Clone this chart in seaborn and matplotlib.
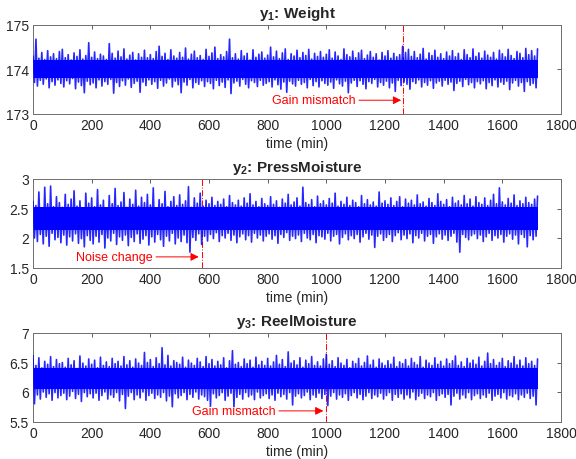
import numpy as np
import pandas as pd
import matplotlib
matplotlib.use("Agg")
import matplotlib.pyplot as plt
import seaborn as sns

# -----------------------------------
# Data
# -----------------------------------

# upper excursions at t = 0, 10, ..., 1720 min
# lower excursions at t = 5, 15, ..., 1715 min

weight_hi = [174.30, 174.68, 174.25, 174.38, 174.22, 174.42, 174.28, 174.35, 174.24, 174.40,
             174.45, 174.26, 174.33, 174.21, 174.37, 174.29, 174.44, 174.23, 174.31, 174.60,
             174.27, 174.39, 174.24, 174.34, 174.30, 174.22, 174.58, 174.36, 174.25, 174.41,
             174.28, 174.46, 174.23, 174.32, 174.38, 174.21, 174.35, 174.27, 174.43, 174.26,
             174.33, 174.24, 174.40, 174.52, 174.29, 174.36, 174.22, 174.44, 174.30, 174.25,
             174.38, 174.27, 174.48, 174.23, 174.34, 174.41, 174.26, 174.31, 174.22, 174.45,
             174.29, 174.37, 174.50, 174.24, 174.33, 174.28, 174.40, 174.68, 174.26, 174.35,
             174.23, 174.42, 174.30, 174.36, 174.21, 174.44, 174.27, 174.34, 174.39, 174.25,
             174.32, 174.50, 174.28, 174.41, 174.24, 174.37, 174.46, 174.22, 174.35, 174.30,
             174.43, 174.26, 174.38, 174.31, 174.45, 174.23, 174.36, 174.29, 174.40, 174.27,
             174.34, 174.44, 174.25, 174.39, 174.30, 174.22, 174.46, 174.33, 174.28, 174.41,
             174.26, 174.37, 174.43, 174.24, 174.32, 174.40, 174.27, 174.35, 174.21, 174.38,
             174.30, 174.42, 174.25, 174.36, 174.28, 174.33, 174.52, 174.38, 174.45, 174.29,
             174.40, 174.26, 174.34, 174.47, 174.23, 174.37, 174.31, 174.43, 174.27, 174.35,
             174.24, 174.39, 174.30, 174.42, 174.28, 174.36, 174.22, 174.44, 174.33, 174.26,
             174.46, 174.29, 174.37, 174.25, 174.41, 174.32, 174.27, 174.38, 174.23, 174.43,
             174.35, 174.28, 174.45, 174.31, 174.24, 174.40, 174.36, 174.26, 174.47, 174.33,
             174.42, 174.30, 174.46]
weight_lo = [173.70, 173.62, 173.75, 173.66, 173.78, 173.58, 173.72, 173.64, 173.76, 173.68,
             173.60, 173.74, 173.67, 173.79, 173.56, 173.71, 173.63, 173.47, 173.73, 173.65,
             173.69, 173.58, 173.76, 173.62, 173.72, 173.66, 173.77, 173.46, 173.70, 173.61,
             173.74, 173.64, 173.78, 173.59, 173.68, 173.73, 173.48, 173.71, 173.63, 173.76,
             173.66, 173.72, 173.57, 173.75, 173.62, 173.69, 173.78, 173.60, 173.73, 173.65,
             173.47, 173.71, 173.64, 173.77, 173.58, 173.70, 173.66, 173.74, 173.61, 173.72,
             173.68, 173.56, 173.75, 173.63, 173.71, 173.59, 173.76, 173.45, 173.69, 173.73,
             173.62, 173.77, 173.66, 173.58, 173.74, 173.70, 173.61, 173.75, 173.64, 173.68,
             173.72, 173.60, 173.76, 173.65, 173.55, 173.71, 173.48, 173.73, 173.67, 173.62,
             173.75, 173.66, 173.70, 173.58, 173.77, 173.63, 173.72, 173.60, 173.74, 173.68,
             173.64, 173.71, 173.57, 173.76, 173.67, 173.62, 173.73, 173.47, 173.69, 173.75,
             173.61, 173.74, 173.66, 173.56, 173.72, 173.68, 173.77, 173.60, 173.70, 173.64,
             173.73, 173.58, 173.69, 173.50, 173.75, 173.63, 173.71, 173.66, 173.55, 173.72,
             173.68, 173.76, 173.60, 173.70, 173.64, 173.74, 173.57, 173.69, 173.73, 173.62,
             173.75, 173.66, 173.71, 173.52, 173.68, 173.73, 173.61, 173.77, 173.65, 173.70,
             173.58, 173.72, 173.67, 173.74, 173.56, 173.70, 173.63, 173.76, 173.60, 173.71,
             173.66, 173.73, 173.54, 173.69, 173.75, 173.62, 173.70, 173.50, 173.72, 173.64,
             173.68, 173.58]

press_hi = [2.62, 2.55, 2.78, 2.50, 2.86, 2.58, 2.88, 2.53, 2.70, 2.60,
            2.52, 2.74, 2.57, 2.66, 2.80, 2.54, 2.63, 2.51, 2.76, 2.59,
            2.68, 2.53, 2.82, 2.56, 2.64, 2.50, 2.72, 2.58, 2.84, 2.55,
            2.61, 2.77, 2.52, 2.66, 2.57, 2.81, 2.54, 2.69, 2.60, 2.74,
            2.56, 2.85, 2.51, 2.65, 2.58, 2.79, 2.53, 2.62, 2.70, 2.55,
            2.73, 2.57, 2.63, 2.87, 2.52, 2.68, 2.59, 2.76, 2.54, 2.64,
            2.58, 2.69, 2.55, 2.62, 2.57, 2.66, 2.53, 2.72, 2.60, 2.56,
            2.64, 2.54, 2.68, 2.59, 2.75, 2.56, 2.62, 2.53, 2.67, 2.58,
            2.55, 2.70, 2.57, 2.63, 2.52, 2.66, 2.59, 2.74, 2.56, 2.61,
            2.68, 2.54, 2.86, 2.60, 2.57, 2.65, 2.53, 2.71, 2.58, 2.63,
            2.56, 2.67, 2.59, 2.76, 2.54, 2.62, 2.57, 2.69, 2.55, 2.64,
            2.60, 2.53, 2.72, 2.58, 2.65, 2.56, 2.61, 2.54, 2.78, 2.59,
            2.63, 2.57, 2.68, 2.55, 2.62, 2.70, 2.53, 2.66, 2.59, 2.64,
            2.56, 2.73, 2.58, 2.61, 2.54, 2.67, 2.60, 2.55, 2.75, 2.62,
            2.57, 2.65, 2.53, 2.69, 2.59, 2.63, 2.56, 2.72, 2.58, 2.66,
            2.54, 2.70, 2.60, 2.57, 2.68, 2.55, 2.64, 2.74, 2.58, 2.85,
            2.61, 2.56, 2.67, 2.59, 2.73, 2.55, 2.63, 2.58, 2.69, 2.60,
            2.57, 2.66, 2.71]
press_lo = [2.00, 1.94, 2.06, 1.90, 2.03, 1.86, 2.08, 1.97, 2.01, 1.92,
            2.05, 1.88, 2.02, 1.95, 2.07, 1.91, 1.99, 1.85, 2.04, 1.96,
            1.90, 2.03, 1.93, 2.06, 1.83, 2.00, 1.95, 2.08, 1.89, 2.02,
            1.96, 2.05, 1.87, 2.01, 1.94, 2.07, 1.91, 1.98, 2.04, 1.88,
            2.02, 1.93, 2.06, 1.97, 1.86, 2.03, 1.95, 2.08, 1.90, 2.00,
            1.94, 2.05, 1.92, 1.76, 2.01, 1.96, 2.07, 1.89, 2.03, 1.95,
            2.06, 1.99, 2.09, 1.94, 2.04, 2.00, 2.08, 1.96, 2.05, 1.92,
            2.02, 2.07, 1.97, 2.04, 1.93, 2.08, 2.00, 2.05, 1.95, 2.03,
            2.07, 1.98, 2.04, 1.91, 2.06, 2.01, 2.09, 1.96, 2.03, 1.99,
            2.05, 1.94, 2.08, 2.00, 1.97, 2.06, 1.92, 2.04, 2.02, 1.98,
            2.08, 1.95, 2.03, 2.06, 1.90, 2.01, 2.07, 1.97, 2.04, 1.99,
            2.06, 1.93, 2.02, 2.08, 1.98, 2.05, 1.84, 2.03, 2.07, 1.96,
            2.01, 2.06, 1.94, 2.04, 2.09, 1.97, 2.05, 1.99, 2.07, 1.92,
            2.04, 2.00, 2.08, 1.95, 2.03, 2.06, 1.91, 2.02, 2.07, 1.98,
            2.05, 1.96, 2.03, 2.08, 1.93, 1.76, 2.06, 2.01, 1.97, 2.04,
            2.07, 1.99, 2.05, 1.94, 2.02, 2.08, 1.96, 2.04, 2.00, 2.06,
            1.93, 2.03, 2.07, 1.98, 2.05, 1.90, 2.06, 2.01, 1.85, 2.04,
            1.97, 2.03]

reel_hi = [6.62, 6.45, 6.58, 6.41, 6.52, 6.47, 6.60, 6.43, 6.55, 6.48,
           6.50, 6.42, 6.57, 6.46, 6.53, 6.40, 6.61, 6.49, 6.44, 6.56,
           6.47, 6.54, 6.41, 6.59, 6.45, 6.51, 6.43, 6.57, 6.48, 6.52,
           6.44, 6.60, 6.46, 6.53, 6.42, 6.56, 6.49, 6.45, 6.67, 6.50,
           6.55, 6.43, 6.58, 6.48, 6.75, 6.46, 6.62, 6.44, 6.53, 6.50,
           6.47, 6.59, 6.42, 6.54, 6.49, 6.45, 6.57, 6.51, 6.43, 6.60,
           6.48, 6.55, 6.44, 6.52, 6.46, 6.58, 6.41, 6.53, 6.70, 6.47,
           6.50, 6.43, 6.56, 6.48, 6.54, 6.42, 6.59, 6.46, 6.52, 6.45,
           6.57, 6.44, 6.51, 6.62, 6.47, 6.55, 6.43, 6.68, 6.49, 6.53,
           6.46, 6.58, 6.42, 6.54, 6.48, 6.60, 6.45, 6.51, 6.44, 6.56,
           6.64, 6.47, 6.53, 6.43, 6.58, 6.49, 6.45, 6.55, 6.41, 6.52,
           6.48, 6.57, 6.44, 6.50, 6.61, 6.46, 6.54, 6.42, 6.56, 6.49,
           6.45, 6.53, 6.47, 6.59, 6.43, 6.51, 6.48, 6.55, 6.44, 6.57,
           6.50, 6.46, 6.60, 6.42, 6.54, 6.49, 6.45, 6.58, 6.47, 6.52,
           6.44, 6.56, 6.48, 6.53, 6.61, 6.45, 6.51, 6.43, 6.57, 6.49,
           6.54, 6.47, 6.59, 6.44, 6.52, 6.66, 6.48, 6.55, 6.45, 6.50,
           6.57, 6.43, 6.53, 6.49, 6.60, 6.46, 6.54, 6.44, 6.58, 6.48,
           6.52, 6.45, 6.56]
reel_lo = [5.80, 5.95, 5.88, 6.00, 5.91, 5.97, 5.86, 5.99, 5.90, 5.94,
           5.98, 5.87, 5.93, 6.01, 5.89, 5.96, 5.84, 5.99, 5.92, 5.97,
           5.90, 5.98, 5.86, 5.94, 6.00, 5.88, 5.95, 5.91, 5.99, 5.85,
           5.96, 5.72, 5.93, 5.99, 5.87, 5.95, 5.90, 6.00, 5.86, 5.94,
           5.98, 5.89, 5.95, 5.91, 5.99, 5.85, 5.93, 5.75, 5.97, 5.90,
           5.94, 5.99, 5.87, 5.96, 5.91, 6.00, 5.88, 5.95, 5.92, 5.86,
           5.76, 5.97, 5.90, 5.94, 5.99, 5.86, 5.93, 5.98, 5.75, 5.91,
           5.96, 5.88, 5.99, 5.92, 5.95, 5.87, 6.00, 5.90, 5.94, 5.97,
           5.89, 5.95, 5.86, 5.98, 5.92, 5.96, 5.88, 5.99, 5.78, 5.93,
           5.97, 5.90, 5.94, 6.00, 5.87, 5.95, 5.91, 5.98, 5.89, 5.96,
           5.77, 5.93, 5.99, 5.88, 5.95, 5.91, 5.97, 5.86, 5.94, 5.99,
           5.90, 5.96, 5.87, 5.93, 5.99, 5.89, 5.95, 5.92, 5.98, 5.88,
           5.94, 5.99, 5.86, 5.96, 5.91, 5.97, 5.88, 5.95, 5.90, 6.00,
           5.87, 5.93, 5.98, 5.89, 5.95, 5.92, 5.99, 5.86, 5.94, 5.97,
           5.91, 5.96, 5.78, 5.93, 5.98, 5.88, 5.95, 5.90, 5.99, 5.87,
           5.94, 5.97, 5.89, 5.95, 5.91, 5.98, 5.86, 5.93, 5.96, 5.90,
           5.99, 5.88, 5.94, 5.92, 5.97, 5.87, 5.95, 5.91, 5.98, 5.89,
           5.93, 5.78]

# solid centre of each trace (lower, upper)
core_bands = [(173.80, 174.20), (2.13, 2.53), (6.05, 6.40)]

titles = [r"$\mathbf{y_1}$: Weight", r"$\mathbf{y_2}$: PressMoisture", r"$\mathbf{y_3}$: ReelMoisture"]
y_limits = [(173, 175), (1.5, 3), (5.5, 7)]
y_ticks = [[173, 174, 175], [1.5, 2, 2.5, 3], [5.5, 6, 6.5, 7]]
y_ticklabels = [["173", "174", "175"], ["1.5", "2", "2.5", "3"], ["5.5", "6", "6.5", "7"]]

fault_times = [1260, 575, 1000]
fault_labels = ["Gain mismatch", "Noise change", "Gain mismatch"]
label_starts = [815, 147, 542]
arrow_tips = [1255, 565, 990]
label_levels = [173.3, 1.68, 5.68]

x_ticks = list(range(0, 1801, 200))

# -----------------------------------
# Build tables
# -----------------------------------

def interleave(hi, lo):
    t = np.empty(len(hi) + len(lo))
    v = np.empty(len(hi) + len(lo))
    t[0::2] = np.arange(len(hi)) * 10
    t[1::2] = np.arange(len(lo)) * 10 + 5
    v[0::2] = hi
    v[1::2] = lo
    return pd.DataFrame({"time": t, "value": v})

signals = [interleave(weight_hi, weight_lo),
           interleave(press_hi, press_lo),
           interleave(reel_hi, reel_lo)]

# -----------------------------------
# Plot
# -----------------------------------

sns.set_style("white")
plt.rcParams["font.family"] = ["Liberation Sans", "DejaVu Sans"]
plt.rcParams["mathtext.fontset"] = "custom"
plt.rcParams["mathtext.bf"] = "Liberation Sans:bold"
plt.rcParams["mathtext.rm"] = "Liberation Sans"

fig = plt.figure(figsize=(5.76, 4.6), dpi=100)

axes_boxes = [
    [33 / 576, 1 - 114.5 / 460, 528 / 576, 88.5 / 460],
    [33 / 576, 1 - 268.5 / 460, 528 / 576, 88.5 / 460],
    [33 / 576, 1 - 422.5 / 460, 528 / 576, 88.5 / 460],
]

for i in range(3):

    ax = fig.add_axes(axes_boxes[i])
    df = signals[i]
    lo_c, hi_c = core_bands[i]

    ax.axvline(fault_times[i], color="red", linestyle="-.", linewidth=0.7, zorder=1)

    ax.fill_between(
        [df["time"].min(), df["time"].max()],
        [lo_c, lo_c],
        [hi_c, hi_c],
        color="blue",
        linewidth=0,
        zorder=2
    )

    sns.lineplot(
        data=df,
        x="time",
        y="value",
        color="blue",
        linewidth=1.2,
        alpha=0.85,
        estimator=None,
        zorder=3,
        ax=ax
    )

    ax.annotate(
        fault_labels[i],
        xy=(arrow_tips[i], label_levels[i]),
        xytext=(label_starts[i], label_levels[i]),
        color="red",
        fontsize=9,
        va="center",
        ha="left",
        arrowprops=dict(arrowstyle="-|>", color="red", lw=0.7,
                        mutation_scale=12, shrinkA=0, shrinkB=0)
    )

    ax.set_xlim(0, 1800)
    ax.set_ylim(*y_limits[i])
    ax.set_xticks(x_ticks)
    ax.set_xticklabels([str(x) for x in x_ticks])
    ax.set_yticks(y_ticks[i])
    ax.set_yticklabels(y_ticklabels[i])

    ax.tick_params(direction="in", length=3, width=0.6, color="#444444",
                   labelsize=10, top=True, right=True, pad=3, labelcolor="#262626")

    for spine in ax.spines.values():
        spine.set_color("#6e6e6e")
        spine.set_linewidth(0.7)

    ax.set_title(titles[i], fontsize=11, fontweight="bold", pad=6)
    ax.set_xlabel("time (min)", fontsize=10, labelpad=3, color="#262626")
    ax.set_ylabel("")

plt.savefig("out.png", dpi=100)
